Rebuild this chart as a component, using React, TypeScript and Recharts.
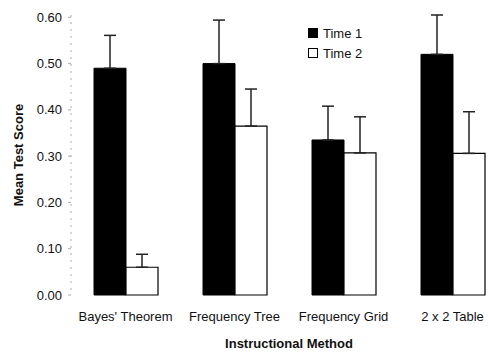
import { BarChart, Bar, XAxis, YAxis, Legend, ErrorBar } from "recharts";

const categories = ["Bayes' Theorem", "Frequency Tree", "Frequency Grid", "2 x 2 Table"];
const time1 = [0.49, 0.5, 0.335, 0.52];
const time1Err = [0.071, 0.094, 0.073, 0.085];
const time2 = [0.06, 0.365, 0.307, 0.306];
const time2Err = [0.028, 0.08, 0.078, 0.09];
const yTicks = [0, 0.1, 0.2, 0.3, 0.4, 0.5, 0.6];

const data = categories.map((name, i) => ({
  name,
  t1: time1[i],
  t1Err: [0, time1Err[i]],
  t2: time2[i],
  t2Err: [0, time2Err[i]],
}));

const font = "'Liberation Sans', Arial, sans-serif";

function LegendBox({ payload }: any) {
  return (
    <div style={{ fontFamily: font, fontSize: 13, color: "#111" }}>
      {(payload || []).map((p: any) => (
        <div key={p.value} style={{ display: "flex", alignItems: "center", height: 20 }}>
          <span
            style={{
              display: "inline-block",
              width: 8,
              height: 8,
              marginRight: 5,
              background: p.value === "Time 1" ? "#000" : "#fff",
              border: "1px solid #000",
            }}
          />
          {p.value}
        </div>
      ))}
    </div>
  );
}

function YLabel() {
  return (
    <text
      x={18}
      y={155}
      transform="rotate(-90 18 155)"
      textAnchor="middle"
      dominantBaseline="central"
      fontFamily={font}
      fontSize={13}
      fontWeight="bold"
      fill="#111"
    >
      Mean Test Score
    </text>
  );
}

export default function App() {
  return (
    <div
      style={{
        position: "absolute",
        left: 0,
        top: 0,
        width: 488,
        height: 352,
        overflow: "hidden",
        background: "#fff",
      }}
    >
      <BarChart
        width={520}
        height={352}
        data={data}
        margin={{ top: 15, right: 13, bottom: 0, left: 1 }}
        barCategoryGap={23}
        barGap={0}
      >
        <XAxis
          dataKey="name"
          height={57}
          axisLine={false}
          tickLine={false}
          tickSize={6}
          tickMargin={11}
          tick={{ fontFamily: font, fontSize: 13, fill: "#111" }}
          label={{
            value: "Instructional Method",
            position: "insideBottom",
            offset: 4,
            style: { fontFamily: font, fontSize: 13, fontWeight: "bold", fill: "#111" },
          }}
        />
        <YAxis
          width={70}
          domain={[0, 0.6]}
          ticks={yTicks}
          tickFormatter={(v: number) => v.toFixed(2)}
          axisLine={{ stroke: "#aaa", strokeDasharray: "2 5" }}
          tickLine={{ stroke: "#aaa" }}
          tickSize={3}
          tickMargin={6}
          tick={{ fontFamily: font, fontSize: 13, fill: "#111" }}
          label={<YLabel />}
        />
        <Legend
          layout="vertical"
          align="center"
          verticalAlign="middle"
          content={<LegendBox />}
          wrapperStyle={{ position: "absolute", left: 308, top: 23, width: 80 }}
        />
        <Bar dataKey="t1" name="Time 1" fill="#000" stroke="#000" isAnimationActive={false}>
          <ErrorBar dataKey="t1Err" width={6} stroke="#222" strokeWidth={1.5} direction="y" />
        </Bar>
        <Bar dataKey="t2" name="Time 2" fill="#fff" stroke="#000" strokeWidth={1.2} isAnimationActive={false}>
          <ErrorBar dataKey="t2Err" width={6} stroke="#222" strokeWidth={1.5} direction="y" />
        </Bar>
      </BarChart>
    </div>
  );
}
